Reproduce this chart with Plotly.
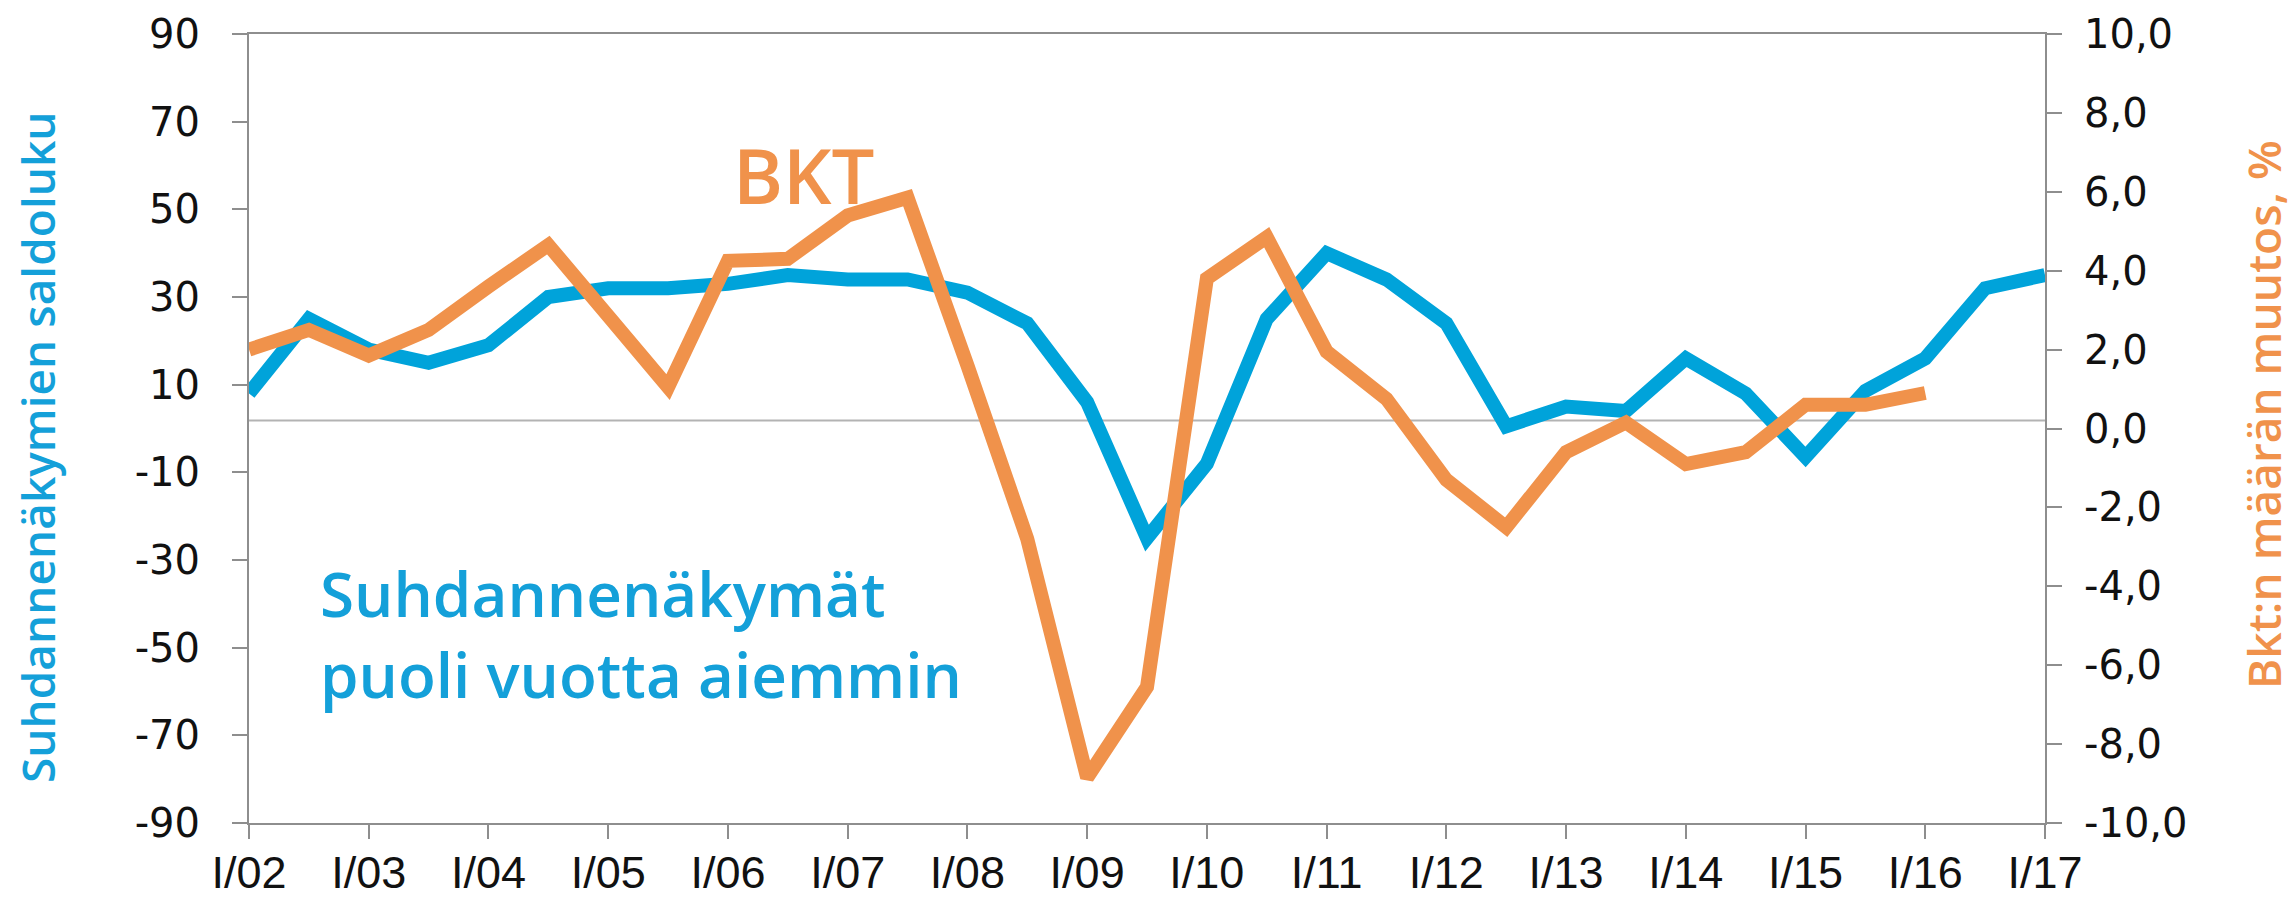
import plotly.graph_objects as go

# ---------------- data ----------------
periods = ["I/02", "II/02", "I/03", "II/03", "I/04", "II/04", "I/05", "II/05",
           "I/06", "II/06", "I/07", "II/07", "I/08", "II/08", "I/09", "II/09",
           "I/10", "II/10", "I/11", "II/11", "I/12", "II/12", "I/13", "II/13",
           "I/14", "II/14", "I/15", "II/15", "I/16", "II/16", "I/17"]

# Suhdannenäkymät puoli vuotta aiemmin (saldoluku, left axis)
outlook = [8, 25, 18, 15, 19, 30, 32, 32, 33, 35, 34, 34, 31, 24, 6, -25,
           -8, 25, 40, 34, 24, 0.5, 5, 4, 16, 8, -6.5, 8.6, 16, 32, 35]

# BKT määrän muutos, % (right axis)
gdp_periods = periods[:29]
gdp = [2.0, 2.5, 1.85, 2.5, 3.6, 4.65, 2.85, 1.05, 4.25, 4.3, 5.4, 5.85, 1.6,
       -2.8, -8.85, -6.55, 3.8, 4.85, 1.95, 0.75, -1.3, -2.5, -0.6, 0.15, -0.9,
       -0.6, 0.6, 0.6, 0.9]

x_tick_labels = ["I/02", "I/03", "I/04", "I/05", "I/06", "I/07", "I/08", "I/09",
                 "I/10", "I/11", "I/12", "I/13", "I/14", "I/15", "I/16", "I/17"]
left_ticks = [-90, -70, -50, -30, -10, 10, 30, 50, 70, 90]
left_tick_text = ["-90", "-70", "-50", "-30", "-10", "10", "30", "50", "70", "90"]
right_ticks = [-10, -8, -6, -4, -2, 0, 2, 4, 6, 8, 10]
right_tick_text = ["-10,0", "-8,0", "-6,0", "-4,0", "-2,0", "0,0", "2,0", "4,0",
                   "6,0", "8,0", "10,0"]
ref_line_level = 1.8  # thin grey horizontal line (left-axis units)

# ---------------- style ----------------
W, H = 2295, 900
PL, PR, PT, PB = 249, 2045, 34, 823
BLUE = "#00A3DA"
BLUE_TXT = "#14A0D9"
ORANGE = "#F0924B"
GREY = "#8E8E8E"
TITLE_FONT = "Open Sans, Noto Sans, sans-serif"


def px_x(px):
    return (px - PL) / (PR - PL)


def px_y(py):
    return (PB - py) / (PB - PT)


fig = go.Figure()
fig.add_trace(go.Scatter(x=periods, y=outlook, mode="lines", yaxis="y",
                         line=dict(color=BLUE, width=14), showlegend=False,
                         name="Suhdannenäkymät"))
fig.add_trace(go.Scatter(x=gdp_periods, y=gdp, mode="lines", yaxis="y2",
                         line=dict(color=ORANGE, width=14), showlegend=False,
                         name="BKT"))

fig.add_shape(type="line", xref="paper", x0=0, x1=1, yref="y",
              y0=ref_line_level, y1=ref_line_level,
              line=dict(color="#B3B3B3", width=2), layer="below")

tick_font_y = dict(family="DejaVu Sans, Verdana, sans-serif", size=40, color="#111111")

fig.update_layout(
    width=W, height=H,
    margin=dict(l=PL, r=W - PR, t=PT, b=H - PB, pad=0, autoexpand=False),
    plot_bgcolor="white", paper_bgcolor="white",
    xaxis=dict(type="category", categoryorder="array", categoryarray=periods,
               range=[0, len(periods) - 1], automargin=False,
               tickmode="array", tickvals=x_tick_labels, ticktext=x_tick_labels,
               ticks="outside", ticklen=14, tickwidth=2, tickcolor=GREY,
               showline=True, linecolor=GREY, linewidth=2, mirror=True,
               showgrid=False, zeroline=False,
               tickfont=dict(family="Liberation Sans, Arial, sans-serif", size=45,
                             color="#111111"),
               ticklabelstandoff=-5),
    yaxis=dict(range=[-90, 90], tickmode="array", tickvals=left_ticks,
               ticktext=left_tick_text, automargin=False,
               ticks="outside", ticklen=15, tickwidth=2, tickcolor=GREY,
               showline=True, linecolor=GREY, linewidth=2,
               showgrid=False, zeroline=False, tickfont=tick_font_y,
               ticklabelstandoff=24),
    yaxis2=dict(range=[-10, 10], overlaying="y", side="right", automargin=False,
                tickmode="array", tickvals=right_ticks, ticktext=right_tick_text,
                ticks="outside", ticklen=15, tickwidth=2, tickcolor=GREY,
                showline=True, linecolor=GREY, linewidth=2,
                showgrid=False, zeroline=False, tickfont=tick_font_y,
                ticklabelstandoff=14),
    yaxis3=dict(range=[-10, 10], overlaying="y", side="right", automargin=False,
                tickmode="array", tickvals=right_ticks,
                ticks="inside", ticklen=15, tickwidth=2, tickcolor=GREY,
                showticklabels=False, showline=False,
                showgrid=False, zeroline=False),
)

annotations = [
    dict(text="Suhdannenäkymien saldoluku", x=px_x(37), y=px_y(447), textangle=-90,
         font=dict(family=TITLE_FONT, size=46, color=BLUE_TXT, weight=600)),
    dict(text="Bkt:n määrän muutos, %", x=px_x(2263), y=px_y(415), textangle=-90,
         font=dict(family=TITLE_FONT, size=46, color=ORANGE, weight=600)),
    dict(text="BKT", x=px_x(804), y=px_y(174),
         font=dict(family=TITLE_FONT, size=76, color=ORANGE, weight=600)),
    dict(text="Suhdannenäkymät<br>puoli vuotta aiemmin", x=px_x(318), y=px_y(633),
         xanchor="left", align="left",
         font=dict(family=TITLE_FONT, size=62, color=BLUE_TXT, weight=600)),
]
for a in annotations:
    a.setdefault("xanchor", "center")
    a.setdefault("yanchor", "middle")
    fig.add_annotation(xref="paper", yref="paper", showarrow=False, **a)

fig.write_html("out.html", config={"displayModeBar": False},
               post_script="document.body.style.margin='0';")
